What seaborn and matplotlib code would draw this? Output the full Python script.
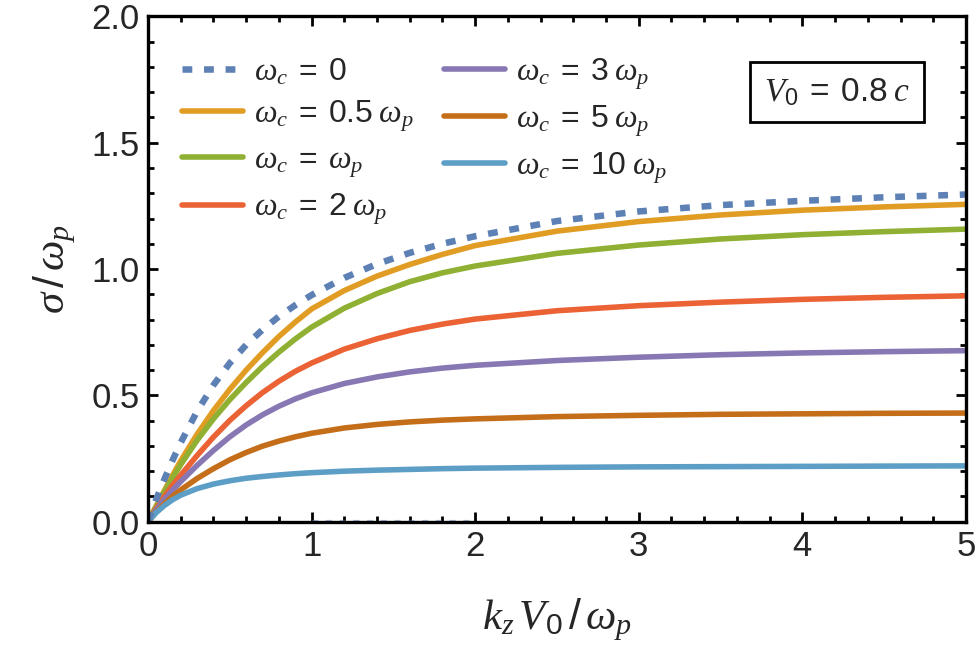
import numpy as np
import pandas as pd
import matplotlib
matplotlib.use("Agg")
import matplotlib.pyplot as plt
import seaborn as sns

# ---- data ----
x_vals = [0.0, 0.05, 0.1, 0.15, 0.2, 0.3, 0.4, 0.5, 0.6, 0.7, 0.8, 0.9, 1.0,
          1.2, 1.4, 1.6, 1.8, 2.0, 2.5, 3.0, 3.5, 4.0, 4.5, 5.0]
wc_0  = [0.0, 0.088, 0.168, 0.243, 0.313, 0.437, 0.541, 0.628, 0.700, 0.760, 0.812, 0.857, 0.897,
         0.965, 1.020, 1.064, 1.100, 1.130, 1.190, 1.228, 1.253, 1.270, 1.284, 1.295]
wc_05 = [0.0, 0.062, 0.123, 0.183, 0.241, 0.346, 0.440, 0.524, 0.600, 0.669, 0.733, 0.790, 0.842,
         0.915, 0.972, 1.018, 1.058, 1.093, 1.150, 1.188, 1.214, 1.233, 1.246, 1.256]
wc_1  = [0.0, 0.060, 0.118, 0.173, 0.226, 0.322, 0.407, 0.483, 0.551, 0.614, 0.671, 0.723, 0.770,
         0.845, 0.903, 0.950, 0.985, 1.012, 1.062, 1.095, 1.119, 1.136, 1.148, 1.158]
wc_2  = [0.0, 0.052, 0.100, 0.144, 0.184, 0.262, 0.335, 0.401, 0.459, 0.511, 0.556, 0.595, 0.628,
         0.683, 0.724, 0.757, 0.782, 0.802, 0.835, 0.855, 0.869, 0.880, 0.888, 0.894]
wc_3  = [0.0, 0.046, 0.088, 0.125, 0.159, 0.223, 0.282, 0.336, 0.383, 0.423, 0.457, 0.486, 0.510,
         0.547, 0.573, 0.593, 0.608, 0.619, 0.638, 0.651, 0.661, 0.668, 0.673, 0.677]
wc_5  = [0.0, 0.038, 0.071, 0.100, 0.126, 0.171, 0.210, 0.245, 0.274, 0.299, 0.319, 0.336, 0.350,
         0.371, 0.385, 0.395, 0.402, 0.407, 0.416, 0.421, 0.425, 0.427, 0.429, 0.430]
wc_10 = [0.0, 0.036, 0.064, 0.087, 0.105, 0.131, 0.149, 0.162, 0.172, 0.179, 0.185, 0.190, 0.194,
         0.200, 0.204, 0.207, 0.210, 0.212, 0.215, 0.217, 0.218, 0.219, 0.220, 0.221]
# second (zero) branch of the omega_c = 0 curve
branch_x = [1.0, 2.0]
branch_y = [0.0, 0.0]

labels = [r"$\omega_c\;=\;0$", r"$\omega_c\;=\;0.5\;\omega_p$", r"$\omega_c\;=\;\omega_p$",
          r"$\omega_c\;=\;2\;\omega_p$", r"$\omega_c\;=\;3\;\omega_p$", r"$\omega_c\;=\;5\;\omega_p$",
          r"$\omega_c\;=\;10\;\omega_p$"]
colors = ["#5E81B5", "#E19C24", "#8FB032", "#EB6235", "#8778B3", "#C56E1A", "#5D9EC7"]
series = [wc_0, wc_05, wc_1, wc_2, wc_3, wc_5, wc_10]

sns.set_theme(style="white")
plt.rcParams["font.family"] = ["Liberation Sans", "DejaVu Sans"]
plt.rcParams["mathtext.fontset"] = "custom"
plt.rcParams["mathtext.rm"] = "Liberation Sans"
plt.rcParams["mathtext.it"] = "Liberation Serif:italic"
plt.rcParams["mathtext.bf"] = "Liberation Sans:bold"

fig = plt.figure(figsize=(9.77, 6.55), dpi=100)
ax = fig.add_axes([0.1515, 0.2035, 0.8372, 0.7715])

handles = []
for i, (ys, lab, col) in enumerate(zip(series, labels, colors)):
    df = pd.DataFrame({"x": x_vals, "y": ys})
    if i == 0:
        sns.lineplot(data=df, x="x", y="y", ax=ax, color=col, linewidth=4.7)
        ln = ax.lines[-1]
        ln.set_dashes((1.5, 1.8))
        ln.set_dash_capstyle("butt")
    else:
        sns.lineplot(data=df, x="x", y="y", ax=ax, color=col, linewidth=4.0)
        ln = ax.lines[-1]
        ln.set_solid_joinstyle("round")
    ln.set_label(lab)
    handles.append(ln)

handles[0].set_zorder(10)

dfb = pd.DataFrame({"x": branch_x, "y": branch_y})
sns.lineplot(data=dfb, x="x", y="y", ax=ax, color=colors[0], linewidth=3.0, alpha=0.5)
ax.lines[-1].set_dashes((1.5, 1.8))
ax.lines[-1].set_zorder(1)

ax.set_xlim(0, 5)
ax.set_ylim(0, 2.0)
ax.set_xticks([0, 1, 2, 3, 4, 5])
ax.set_xticklabels(["0", "1", "2", "3", "4", "5"])
ax.set_yticks([0.0, 0.5, 1.0, 1.5, 2.0])
ax.set_yticklabels(["0.0", "0.5", "1.0", "1.5", "2.0"])
ax.set_xticks(np.arange(0, 5.01, 0.2), minor=True)
ax.set_yticks(np.arange(0, 2.001, 0.1), minor=True)
ax.tick_params(which="both", direction="in", top=True, right=True, bottom=True, left=True,
               width=2.0, color="black")
ax.tick_params(which="major", length=7.5, labelsize=25, pad=6)
ax.tick_params(which="minor", length=4.3)
for s in ax.spines.values():
    s.set_linewidth(2.4)
    s.set_color("black")
    s.set_zorder(20)

ax.set_xlabel(r"$k_z\,V_0\,/\,\omega_p$", fontsize=31, labelpad=24)
ax.set_ylabel(r"$\sigma\,/\,\omega_p$", fontsize=31, labelpad=10)

leg = ax.legend(handles=handles, ncol=2, loc="upper left", frameon=False, fontsize=23,
                handlelength=1.9, handletextpad=0.35, columnspacing=0.95, labelspacing=0.36,
                bbox_to_anchor=(0.026, 0.947), borderaxespad=0.0)

ax.text(0.842, 0.850, r"$V_0\;=\;0.8\;c$", transform=ax.transAxes, fontsize=24,
        ha="center", va="center",
        bbox=dict(boxstyle="square,pad=0.42", facecolor="white", edgecolor="black", linewidth=2.0))

fig.savefig("out.png", dpi=100)
